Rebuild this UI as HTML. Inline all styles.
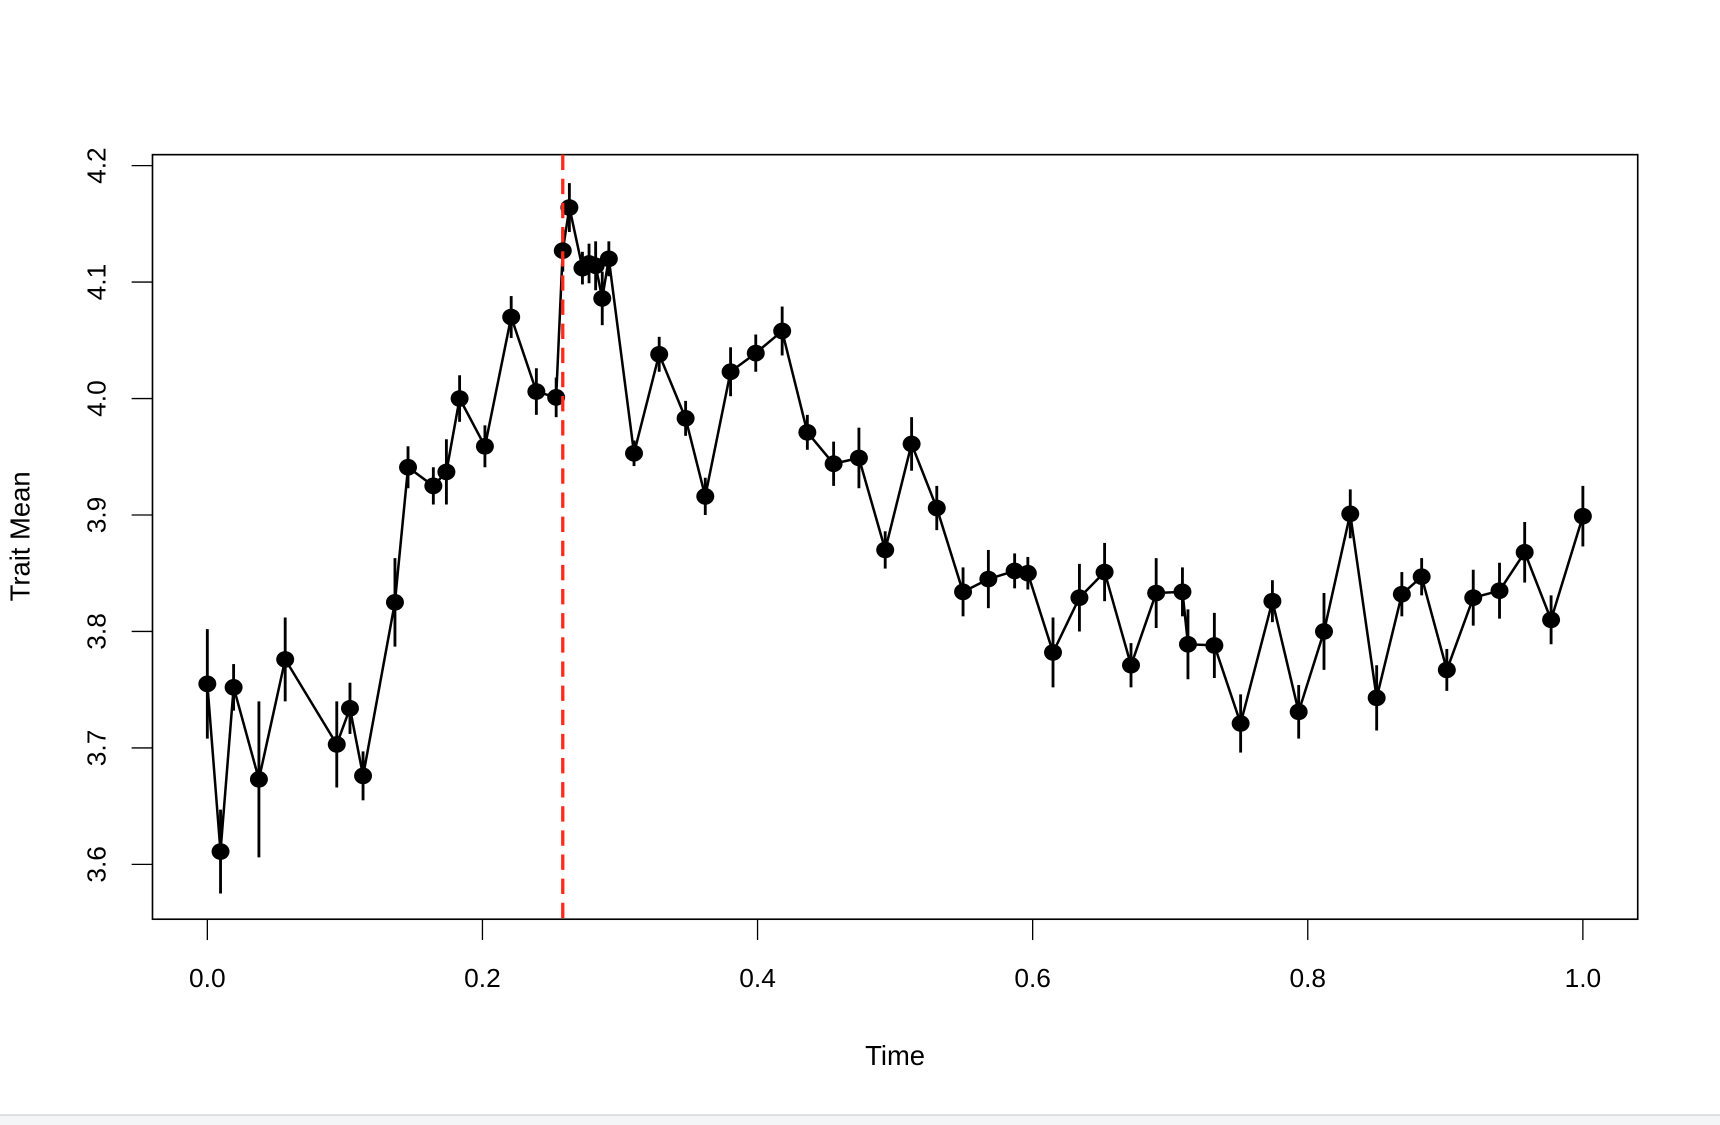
<!DOCTYPE html>
<html><head><meta charset="utf-8"><style>
html,body{margin:0;padding:0;background:#fff;width:1720px;height:1125px;overflow:hidden}
svg{display:block}
text{font-family:"Liberation Sans",Arial,sans-serif;fill:#000}
</style></head><body>
<svg id="chart" width="1720" height="1125" viewBox="0 0 1568 1025.6" xmlns="http://www.w3.org/2000/svg">
<rect x="0" y="1016" width="1568" height="10" fill="#f4f5f6"/>
<line x1="0" y1="1016.5" x2="1568" y2="1016.5" stroke="#d8dadc" stroke-width="1.5"/>
<g id="plot"></g>
</svg>
<script>
const times=[0,.0096,.0191,.0375,.0566,.0941,.1037,.1132,.1364,.1459,.1643,.1738,.1834,.2018,.2209,.2392,.2536,.2584,.2632,.2727,.2775,.2823,.2871,.2919,.3102,.3285,.3477,.3620,.3804,.3987,.4179,.4362,.4553,.4737,.4928,.5120,.5303,.5494,.5678,.5869,.5965,.6148,.6340,.6523,.6715,.6898,.7089,.7129,.7321,.7512,.7743,.7934,.8118,.8309,.8501,.8684,.8828,.9011,.9203,.9394,.9577,.9769,1];
const means=[3.755,3.611,3.752,3.673,3.776,3.703,3.734,3.676,3.825,3.941,3.925,3.937,4.000,3.959,4.070,4.006,4.001,4.127,4.164,4.112,4.116,4.114,4.086,4.120,3.953,4.038,3.983,3.916,4.023,4.039,4.058,3.971,3.944,3.949,3.870,3.961,3.906,3.834,3.845,3.852,3.850,3.782,3.829,3.851,3.771,3.833,3.834,3.789,3.788,3.721,3.826,3.731,3.800,3.901,3.743,3.832,3.847,3.767,3.829,3.835,3.868,3.810,3.899];
const errors=[.047,.036,.020,.067,.036,.037,.022,.021,.038,.018,.016,.028,.020,.018,.018,.020,.017,.018,.021,.014,.017,.021,.023,.015,.011,.015,.015,.016,.021,.016,.021,.015,.019,.026,.016,.023,.019,.021,.025,.015,.014,.030,.029,.025,.019,.030,.021,.030,.028,.025,.018,.023,.033,.021,.028,.019,.016,.018,.024,.024,.026,.021,.026];
const xTicks=[0,0.2,0.4,0.6,0.8,1.0];
const xTickLabels=["0.0","0.2","0.4","0.6","0.8","1.0"];
const yTicks=[3.6,3.7,3.8,3.9,4.0,4.1,4.2];
const yTickLabels=["3.6","3.7","3.8","3.9","4.0","4.1","4.2"];
const shiftTime=[0.2584];

const NS="http://www.w3.org/2000/svg";
const g=document.getElementById('plot');
const X=t=>189+t*1254;
const Y=v=>788-(v-3.6)/0.6*637;
function mk(tag,attrs,parent){const e=document.createElementNS(NS,tag);for(const k in attrs)e.setAttribute(k,attrs[k]);(parent||g).appendChild(e);return e;}

const box=mk('rect',{x:139,y:141,width:1354,height:697,fill:'none',stroke:'#000','stroke-width':1.5});



xTicks.forEach((t,i)=>{
  const l=mk('line',{x1:X(t),y1:838,x2:X(t),y2:857,stroke:'#000','stroke-width':1.2});
  
  
  const tx=mk('text',{x:X(t),y:900,'font-size':24,'text-anchor':'middle'});
  tx.textContent=xTickLabels[i];
  
  
});
yTicks.forEach((v,i)=>{
  const l=mk('line',{x1:139,y1:Y(v),x2:120,y2:Y(v),stroke:'#000','stroke-width':1.2});
  
  
  const tx=mk('text',{x:0,y:0,'font-size':24,'text-anchor':'middle',transform:`translate(96,${Y(v)}) rotate(-90)`});
  tx.textContent=yTickLabels[i];
  
  
});
const xt=mk('text',{x:816,y:971,'font-size':25,'text-anchor':'middle'});
xt.textContent='Time';


const yt=mk('text',{x:0,y:0,'font-size':25,'text-anchor':'middle',transform:'translate(27,489) rotate(-90)'});
yt.textContent='Trait Mean';



times.forEach((t,i)=>{
  const l=mk('line',{x1:X(t),y1:Y(means[i]-errors[i]),x2:X(t),y2:Y(means[i]+errors[i]),stroke:'#000','stroke-width':2.6});
  
  
});
const pts=times.map((t,i)=>X(t).toFixed(1)+','+Y(means[i]).toFixed(1)).join(' ');
const pl=mk('polyline',{points:pts,fill:'none',stroke:'#000','stroke-width':2.3,'stroke-linejoin':'round'});


times.forEach((t,i)=>{
  const c=mk('ellipse',{cx:X(t),cy:Y(means[i]),rx:8.2,ry:7.6,fill:'#000'});
  
  
});
shiftTime.forEach(t=>{
  const r=mk('line',{x1:X(t),y1:141,x2:X(t),y2:838,stroke:'#ff2a1a','stroke-width':3,'stroke-dasharray':'14 8'});
  
  
});
</script>
</body></html>
